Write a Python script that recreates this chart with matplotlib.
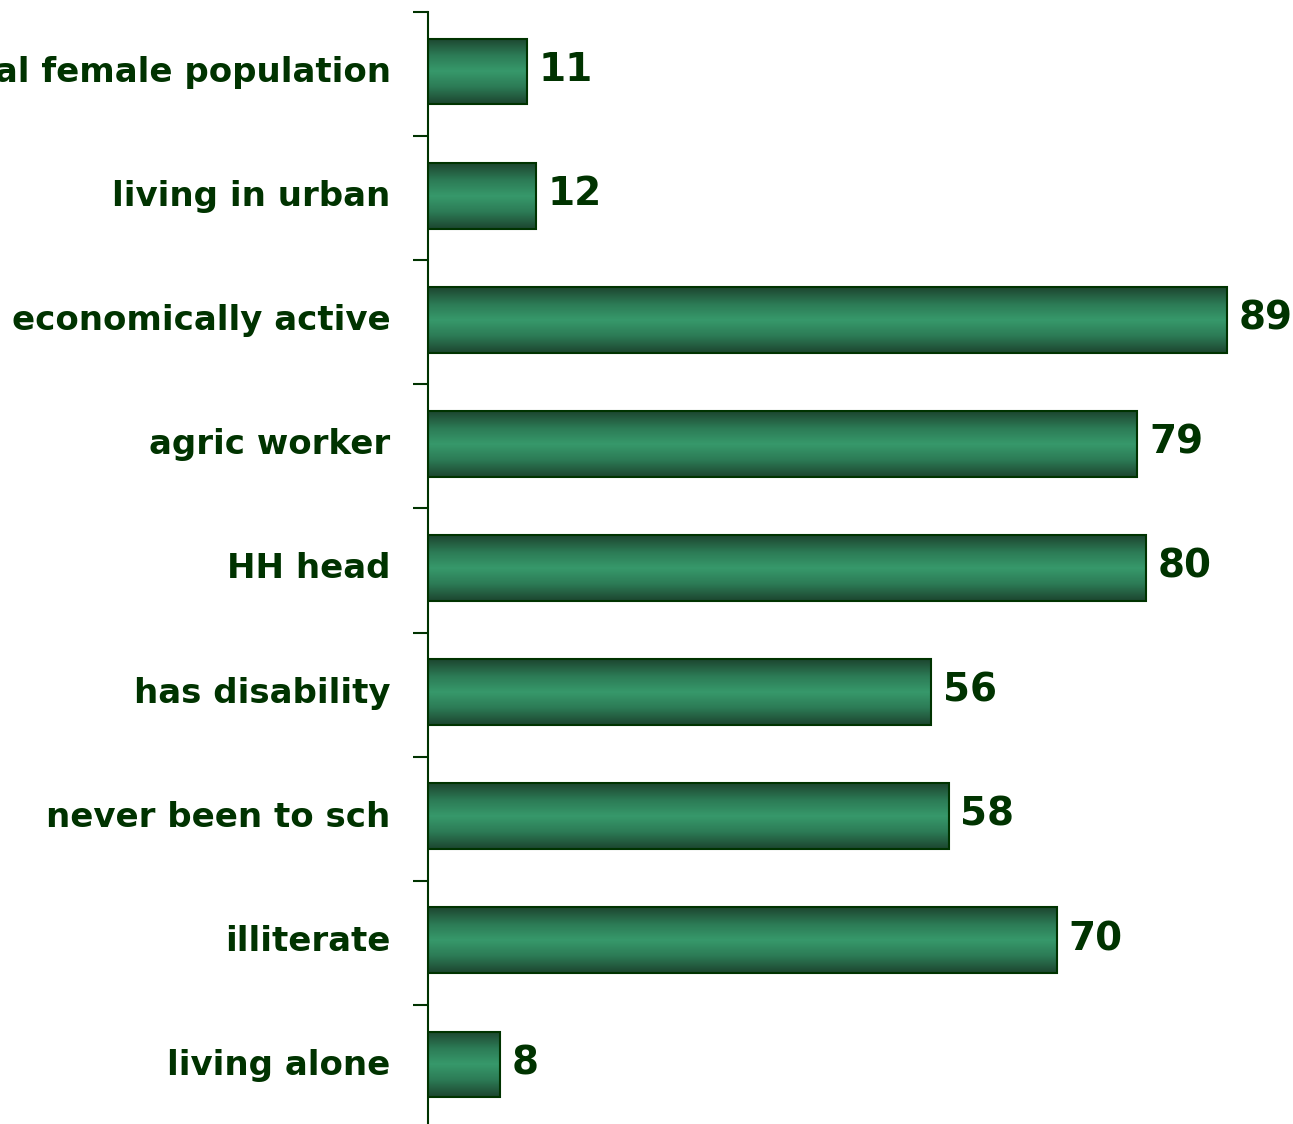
import numpy as np
import matplotlib.pyplot as plt
import matplotlib.transforms as mtransforms
from matplotlib.colors import LinearSegmentedColormap

categories = ['total female population', 'living in urban', 'economically active',
              'agric worker', 'HH head', 'has disability', 'never been to sch',
              'illiterate', 'living alone']
values = [11, 12, 89, 79, 80, 56, 58, 70, 8]

dark = '#003300'
shade = LinearSegmentedColormap.from_list('shade', ['#1d4630', '#2c7a55', '#37996b', '#2c7a55', '#1d4630'])

fig = plt.figure(figsize=(12.93, 11.24), dpi=100)
ax = fig.add_axes([428 / 1293, -5 / 1124, 862 / 1293, 1117 / 1124])

ypos = np.arange(len(categories))
h = 0.53
grad = np.linspace(0, 1, 64).reshape(-1, 1)
for y, v in zip(ypos, values):
    # vertical shading inside each bar
    ax.imshow(grad, cmap=shade, aspect='auto', interpolation='bilinear',
              extent=[0, v, y + h / 2 - 0.02, y - h / 2 - 0.02], zorder=2)
    ax.text(v + 1.3, y - 0.03, str(v), va='center', ha='left', fontsize=28,
            fontweight='bold', color=dark)
ax.barh(ypos - 0.02, values, height=h, facecolor='none', edgecolor=dark, linewidth=1.5, zorder=3)

ax.set_xlim(0, 96)
ax.set_ylim(len(categories) - 0.5, -0.5)
ax.set_yticks(ypos)
ax.set_yticklabels(categories, fontsize=24.5, fontweight='bold', color=dark)
ax.set_yticks(np.arange(len(categories) + 1) - 0.5, minor=True)
ax.tick_params(axis='y', which='major', length=0, pad=27)
ax.tick_params(axis='y', which='minor', length=11, width=1.5, color=dark)
# nudge category labels up a little
up = mtransforms.ScaledTranslation(0, 5 / 100, fig.dpi_scale_trans)
for lbl in ax.get_yticklabels():
    lbl.set_transform(lbl.get_transform() + up)
ax.set_xticks([])
for s in ['top', 'right', 'bottom']:
    ax.spines[s].set_visible(False)
ax.spines['left'].set_color(dark)
ax.spines['left'].set_linewidth(1.5)

fig.savefig('out.png', dpi=100)
